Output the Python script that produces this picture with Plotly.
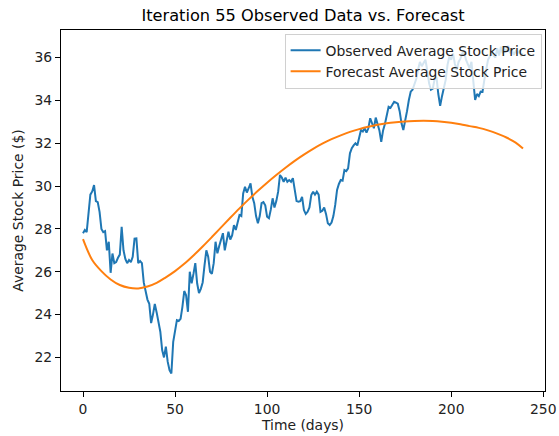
import plotly.graph_objects as go

# Observed daily average stock price, days 0..239
observed_days = list(range(240))
observed_price = [
    27.80, 27.95, 27.85, 28.70, 29.60, 29.75, 30.05, 29.30, 29.25, 28.80,
    28.00, 27.85, 27.90, 27.00, 27.40, 25.95, 26.85, 26.40, 26.45, 26.65,
    26.80, 28.10, 27.00, 26.60, 26.40, 26.55, 26.45, 26.70, 27.55, 27.56,
    26.40, 26.50, 26.40, 25.50, 25.00, 24.70, 24.50, 23.60, 24.00, 24.50,
    24.10, 23.60, 23.20, 22.34, 22.00, 22.50, 21.80, 21.40, 21.25, 22.73,
    23.30, 23.74, 23.70, 23.80, 24.36, 25.10, 24.90, 24.13, 26.00, 25.46,
    25.90, 26.40, 25.46, 25.00, 25.20, 25.50, 26.30, 27.00, 26.70, 26.00,
    25.90, 26.40, 27.40, 26.86, 27.20, 27.50, 27.80, 27.00, 27.50, 27.87,
    27.50, 27.70, 28.18, 27.95, 28.30, 28.65, 28.60, 29.66, 29.97, 29.70,
    29.90, 30.13, 29.50, 29.20, 28.60, 28.26, 28.60, 29.20, 29.25, 29.10,
    28.57, 28.50, 28.90, 29.43, 29.00, 29.30, 29.74, 30.52, 30.40, 30.20,
    30.40, 30.20, 30.28, 30.20, 30.37, 29.80, 29.30, 29.27, 29.30, 29.50,
    28.88, 28.70, 28.80, 29.00, 29.58, 29.74, 29.60, 29.74, 29.60, 28.80,
    28.85, 29.00, 28.70, 28.26, 28.18, 28.30, 28.60, 29.12, 29.82, 30.10,
    30.28, 30.25, 30.75, 30.70, 30.83, 31.53, 31.77, 31.90, 32.00, 31.90,
    32.23, 32.62, 32.55, 32.70, 32.50, 32.70, 33.17, 32.90, 32.70, 33.20,
    32.90, 32.60, 32.07, 32.60, 32.90, 33.30, 33.70, 33.65, 33.79, 33.94,
    33.90, 33.85, 33.50, 32.93, 32.62, 33.00, 33.50, 34.02, 34.41, 34.50,
    34.72, 35.00, 35.43, 35.80, 35.60, 35.75, 35.90, 35.40, 34.80, 34.50,
    34.55, 35.00, 35.10, 34.30, 33.75, 34.20, 34.57, 34.96, 35.66, 36.05,
    35.90, 36.20, 35.70, 35.43, 35.80, 35.95, 36.20, 36.28, 35.90, 35.70,
    35.50, 35.80, 35.00, 34.02, 34.30, 34.20, 34.41, 34.40, 34.96, 35.50,
    35.90, 36.05, 36.30, 36.10, 36.00, 36.44, 36.10, 36.51, 36.20, 36.40,
    36.30, 36.55, 36.20, 36.35, 36.13, 36.30, 36.20, 36.30, 36.10, 36.20,
]

# Forecast curve sampled every 5 days
forecast_days = [0, 5, 10, 15, 20, 25, 30, 35, 40, 45, 50, 55, 60, 65, 70, 75,
                 80, 85, 90, 95, 100, 105, 110, 115, 120, 125, 130, 135, 140,
                 145, 150, 155, 160, 165, 170, 175, 180, 185, 190, 195, 200,
                 205, 210, 215, 220, 225, 230, 235, 239]
forecast_price = [27.52, 26.55, 26.03, 25.64, 25.38, 25.25, 25.22, 25.31, 25.48,
                  25.74, 26.03, 26.37, 26.76, 27.18, 27.62, 28.07, 28.52, 28.96,
                  29.38, 29.78, 30.16, 30.52, 30.86, 31.18, 31.47, 31.74, 31.98,
                  32.19, 32.37, 32.53, 32.66, 32.77, 32.86, 32.93, 32.98, 33.02,
                  33.04, 33.05, 33.04, 33.01, 32.96, 32.89, 32.80, 32.72, 32.60,
                  32.45, 32.27, 32.03, 31.75]

x_ticks = [0, 50, 100, 150, 200, 250]
y_ticks = [22, 24, 26, 28, 30, 32, 34, 36]

font = "DejaVu Sans"
text_size = 13.9

fig = go.Figure()
fig.add_trace(go.Scatter(
    x=observed_days, y=observed_price, mode="lines",
    name="Observed Average Stock Price",
    line=dict(color="#1f77b4", width=2),
))
fig.add_trace(go.Scatter(
    x=forecast_days, y=forecast_price, mode="lines",
    name="Forecast Average Stock Price",
    line=dict(color="#ff7f0e", width=2, shape="spline"),
))

axis_common = dict(
    showgrid=False, zeroline=False, showline=True, linecolor="black",
    linewidth=1, mirror=True, ticks="outside", ticklen=5, tickwidth=1,
    tickcolor="black", automargin=False,
    tickfont=dict(family=font, size=text_size, color="#222"),
)

fig.update_layout(
    width=559, height=436,
    margin=dict(l=61, r=14, t=30, b=45),
    paper_bgcolor="white", plot_bgcolor="white",
    title=dict(text="Iteration 55 Observed Data vs. Forecast",
               xref="paper", x=0.5, xanchor="center",
               y=0.965, yanchor="middle",
               font=dict(family=font, size=16.2, color="black")),
    xaxis=dict(range=[-11.95, 250.95], tickvals=x_ticks,
               title=dict(text="Time (days)", standoff=3,
                          font=dict(family=font, size=text_size, color="#222")),
               **axis_common),
    yaxis=dict(range=[20.43, 37.29], tickvals=y_ticks,
               title=dict(text="Average Stock Price ($)", standoff=7,
                          font=dict(family=font, size=text_size, color="#222")),
               **axis_common),
    legend=dict(x=0.993, y=0.99, xanchor="right", yanchor="top",
                bgcolor="rgba(255,255,255,0.8)", bordercolor="#d0d0d0",
                borderwidth=1, font=dict(family=font, size=text_size, color="#222"),
                tracegroupgap=0),
    showlegend=True,
)

fig.write_html("out.html")
